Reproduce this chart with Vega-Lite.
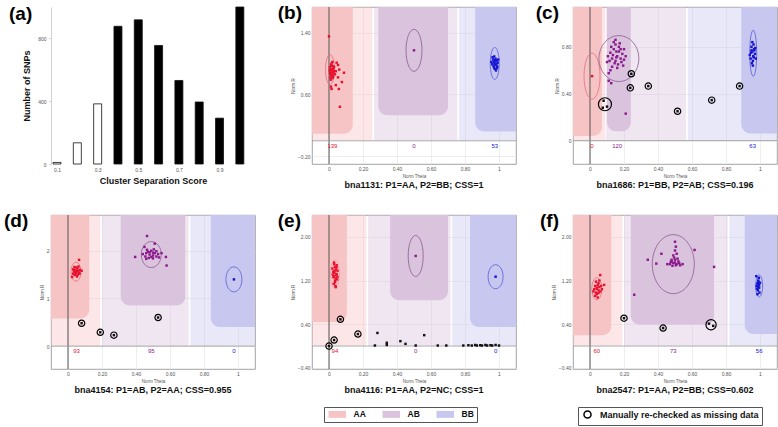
{
 "$schema": "https://vega.github.io/schema/vega-lite/v6.json",
 "padding": {"left": 3, "top": 3, "right": 0, "bottom": 0},
 "background": "white",
 "config": {
  "font": "Liberation Sans",
  "view": {"stroke": "#8a8a8a", "strokeWidth": 0.8},
  "axis": {"labelFontSize": 5, "titleFontSize": 4.5, "labelColor": "#555", "titleColor": "#555", "domain": false, "ticks": false, "gridColor": "#e2e2e2", "gridWidth": 0.6, "labelPadding": 2, "titlePadding": 2, "titleFontWeight": "normal", "labelOverlap": false, "labelSeparation": 0},
  "title": {"fontSize": 9, "fontWeight": "bold", "color": "#111", "orient": "bottom", "anchor": "middle"}
 },
 "datasets": {
  "bars": [
   {"css": 0.1, "n": 10, "kept": "no"}, {"css": 0.2, "n": 135, "kept": "no"}, {"css": 0.3, "n": 383, "kept": "no"},
   {"css": 0.4, "n": 877, "kept": "yes"}, {"css": 0.5, "n": 918, "kept": "yes"}, {"css": 0.6, "n": 755, "kept": "yes"},
   {"css": 0.7, "n": 532, "kept": "yes"}, {"css": 0.8, "n": 395, "kept": "yes"}, {"css": 0.9, "n": 292, "kept": "yes"},
   {"css": 1.0, "n": 1000, "kept": "yes"}
  ],
  "tags": [
   {"p": "a", "t": "(a)"}, {"p": "b", "t": "(b)"}, {"p": "c", "t": "(c)"},
   {"p": "d", "t": "(d)"}, {"p": "e", "t": "(e)"}, {"p": "f", "t": "(f)"}
  ],
  "regions": [
   {"p": "b", "g": "AA", "lvl": "light", "x": -0.2, "x2": 0.255, "y": 0, "y2": 3},
   {"p": "b", "g": "AB", "lvl": "light", "x": 0.265, "x2": 0.755, "y": 0, "y2": 3},
   {"p": "b", "g": "BB", "lvl": "light", "x": 0.765, "x2": 1.2, "y": 0, "y2": 3},
   {"p": "b", "g": "AA", "lvl": "core", "x": -0.2, "x2": 0.14, "y": 0.09, "y2": 3},
   {"p": "b", "g": "AB", "lvl": "core", "x": 0.29, "x2": 0.7, "y": 0.33, "y2": 3},
   {"p": "b", "g": "BB", "lvl": "core", "x": 0.86, "x2": 1.2, "y": 0.12, "y2": 3},
   {"p": "c", "g": "AA", "lvl": "light", "x": -0.2, "x2": 0.09, "y": 0, "y2": 3},
   {"p": "c", "g": "AB", "lvl": "light", "x": 0.095, "x2": 0.565, "y": 0, "y2": 3},
   {"p": "c", "g": "BB", "lvl": "light", "x": 0.575, "x2": 1.2, "y": 0, "y2": 3},
   {"p": "c", "g": "AA", "lvl": "core", "x": -0.2, "x2": 0.07, "y": 0.04, "y2": 3},
   {"p": "c", "g": "AB", "lvl": "core", "x": 0.1, "x2": 0.24, "y": 0.08, "y2": 3},
   {"p": "c", "g": "BB", "lvl": "core", "x": 0.89, "x2": 1.2, "y": 0.06, "y2": 3},
   {"p": "d", "g": "AA", "lvl": "light", "x": -0.2, "x2": 0.19, "y": 0, "y2": 3},
   {"p": "d", "g": "AB", "lvl": "light", "x": 0.2, "x2": 0.71, "y": 0, "y2": 3},
   {"p": "d", "g": "BB", "lvl": "light", "x": 0.72, "x2": 1.2, "y": 0, "y2": 3},
   {"p": "d", "g": "AA", "lvl": "core", "x": -0.2, "x2": 0.125, "y": 0.58, "y2": 3},
   {"p": "d", "g": "AB", "lvl": "core", "x": 0.31, "x2": 0.69, "y": 0.85, "y2": 3},
   {"p": "d", "g": "BB", "lvl": "core", "x": 0.84, "x2": 1.2, "y": 0.4, "y2": 3},
   {"p": "e", "g": "AA", "lvl": "light", "x": -0.2, "x2": 0.22, "y": 0, "y2": 3},
   {"p": "e", "g": "AB", "lvl": "light", "x": 0.23, "x2": 0.715, "y": 0, "y2": 3},
   {"p": "e", "g": "BB", "lvl": "light", "x": 0.725, "x2": 1.2, "y": 0, "y2": 3},
   {"p": "e", "g": "AA", "lvl": "core", "x": -0.2, "x2": 0.105, "y": 0.44, "y2": 3},
   {"p": "e", "g": "AB", "lvl": "core", "x": 0.36, "x2": 0.7, "y": 0.84, "y2": 3},
   {"p": "e", "g": "BB", "lvl": "core", "x": 0.83, "x2": 1.2, "y": 0.35, "y2": 3},
   {"p": "f", "g": "AA", "lvl": "light", "x": -0.2, "x2": 0.19, "y": 0, "y2": 3},
   {"p": "f", "g": "AB", "lvl": "light", "x": 0.2, "x2": 0.81, "y": 0, "y2": 3},
   {"p": "f", "g": "BB", "lvl": "light", "x": 0.82, "x2": 1.2, "y": 0, "y2": 3},
   {"p": "f", "g": "AA", "lvl": "core", "x": -0.2, "x2": 0.125, "y": 0.2, "y2": 3},
   {"p": "f", "g": "AB", "lvl": "core", "x": 0.24, "x2": 0.73, "y": 0.39, "y2": 3},
   {"p": "f", "g": "BB", "lvl": "core", "x": 0.91, "x2": 1.2, "y": 0.22, "y2": 3}
  ],
  "ell": [
   {"p": "b", "cl": "AA", "x": 0.006, "y": 0.92}, {"p": "b", "cl": "AB", "x": 0.5, "y": 1.17}, {"p": "b", "cl": "BB", "x": 0.975, "y": 1.0},
   {"p": "c", "cl": "AA", "x": 0.012, "y": 0.55}, {"p": "c", "cl": "AB", "x": 0.17, "y": 0.7}, {"p": "c", "cl": "BB", "x": 0.96, "y": 0.745},
   {"p": "d", "cl": "AA", "x": 0.047, "y": 1.56}, {"p": "d", "cl": "AB", "x": 0.49, "y": 1.92}, {"p": "d", "cl": "BB", "x": 0.976, "y": 1.4},
   {"p": "e", "cl": "AA", "x": 0.035, "y": 1.32}, {"p": "e", "cl": "AB", "x": 0.51, "y": 1.65}, {"p": "e", "cl": "BB", "x": 0.98, "y": 1.27},
   {"p": "f", "cl": "AA", "x": 0.04, "y": 1.05}, {"p": "f", "cl": "AB", "x": 0.49, "y": 1.5}, {"p": "f", "cl": "BB", "x": 0.995, "y": 1.1}
  ],
  "miss": [
   {"p": "c", "x": 0.243, "y": 0.57, "k": 1}, {"p": "c", "x": 0.237, "y": 0.45, "k": 1}, {"p": "c", "x": 0.343, "y": 0.465, "k": 1},
   {"p": "c", "x": 0.515, "y": 0.25, "k": 1}, {"p": "c", "x": 0.716, "y": 0.345, "k": 1}, {"p": "c", "x": 0.88, "y": 0.465, "k": 1},
   {"p": "c", "x": 0.088, "y": 0.31, "k": 3},
   {"p": "d", "x": 0.08, "y": 0.48, "k": 1}, {"p": "d", "x": 0.19, "y": 0.29, "k": 1}, {"p": "d", "x": 0.27, "y": 0.23, "k": 1}, {"p": "d", "x": 0.53, "y": 0.6, "k": 1},
   {"p": "e", "x": 0.067, "y": 0.49, "k": 1}, {"p": "e", "x": 0.17, "y": 0.22, "k": 1}, {"p": "e", "x": 0.03, "y": 0.11, "k": 1}, {"p": "e", "x": 0.0, "y": 0.0, "k": 1},
   {"p": "f", "x": 0.2, "y": 0.51, "k": 1}, {"p": "f", "x": 0.43, "y": 0.33, "k": 1}, {"p": "f", "x": 0.712, "y": 0.39, "k": 2}
  ],
  "counts": [
   {"p": "b", "g": "AA", "x": 0.02, "n": "139"}, {"p": "b", "g": "AB", "x": 0.5, "n": "0"}, {"p": "b", "g": "BB", "x": 0.975, "n": "53"},
   {"p": "c", "g": "AA", "x": 0.012, "n": "0"}, {"p": "c", "g": "AB", "x": 0.16, "n": "120"}, {"p": "c", "g": "BB", "x": 0.957, "n": "63"},
   {"p": "d", "g": "AA", "x": 0.05, "n": "93"}, {"p": "d", "g": "AB", "x": 0.49, "n": "95"}, {"p": "d", "g": "BB", "x": 0.976, "n": "0"},
   {"p": "e", "g": "AA", "x": 0.035, "n": "94"}, {"p": "e", "g": "AB", "x": 0.51, "n": "0"}, {"p": "e", "g": "BB", "x": 0.98, "n": "0"},
   {"p": "f", "g": "AA", "x": 0.04, "n": "60"}, {"p": "f", "g": "AB", "x": 0.49, "n": "73"}, {"p": "f", "g": "BB", "x": 0.995, "n": "56"}
  ],
  "pts": [
   {"p": "b", "g": "AA", "x": 0.005, "y": 0.95}, {"p": "b", "g": "AA", "x": 0.01, "y": 0.92}, {"p": "b", "g": "AA", "x": 0.015, "y": 0.9},
   {"p": "b", "g": "AA", "x": 0.02, "y": 0.88}, {"p": "b", "g": "AA", "x": 0.012, "y": 0.85}, {"p": "b", "g": "AA", "x": 0.018, "y": 0.97},
   {"p": "b", "g": "AA", "x": 0.008, "y": 0.82}, {"p": "b", "g": "AA", "x": 0.025, "y": 0.93}, {"p": "b", "g": "AA", "x": 0.03, "y": 0.9},
   {"p": "b", "g": "AA", "x": 0.022, "y": 0.84}, {"p": "b", "g": "AA", "x": 0.015, "y": 1.0}, {"p": "b", "g": "AA", "x": 0.01, "y": 0.79},
   {"p": "b", "g": "AA", "x": 0.028, "y": 0.96}, {"p": "b", "g": "AA", "x": 0.006, "y": 0.88}, {"p": "b", "g": "AA", "x": 0.02, "y": 0.81},
   {"p": "b", "g": "AA", "x": 0.035, "y": 0.86}, {"p": "b", "g": "AA", "x": 0.017, "y": 0.93}, {"p": "b", "g": "AA", "x": 0.012, "y": 0.98},
   {"p": "b", "g": "AA", "x": 0.026, "y": 0.87}, {"p": "b", "g": "AA", "x": 0.004, "y": 0.91}, {"p": "b", "g": "AA", "x": 0.03, "y": 0.95},
   {"p": "b", "g": "AA", "x": 0.02, "y": 1.02}, {"p": "b", "g": "AA", "x": 0.024, "y": 0.83}, {"p": "b", "g": "AA", "x": 0.009, "y": 0.86},
   {"p": "b", "g": "AA", "x": 0.053, "y": 0.98}, {"p": "b", "g": "AA", "x": 0.06, "y": 0.92}, {"p": "b", "g": "AA", "x": 0.088, "y": 0.88},
   {"p": "b", "g": "AA", "x": 0.053, "y": 0.82}, {"p": "b", "g": "AA", "x": 0.076, "y": 0.76}, {"p": "b", "g": "AA", "x": 0.012, "y": 0.7},
   {"p": "b", "g": "AA", "x": 0.04, "y": 0.72}, {"p": "b", "g": "AA", "x": 0.058, "y": 0.67}, {"p": "b", "g": "AA", "x": 0.015, "y": 0.67},
   {"p": "b", "g": "AA", "x": 0.064, "y": 0.44}, {"p": "b", "g": "AA", "x": 0.0, "y": 1.35}, {"p": "b", "g": "AA", "x": 0.045, "y": 1.01},
   {"p": "b", "g": "AA", "x": 0.04, "y": 0.9},
   {"p": "b", "g": "AB", "x": 0.5, "y": 1.17},
   {"p": "b", "g": "BB", "x": 0.965, "y": 1.05}, {"p": "b", "g": "BB", "x": 0.97, "y": 1.02}, {"p": "b", "g": "BB", "x": 0.975, "y": 1.0},
   {"p": "b", "g": "BB", "x": 0.98, "y": 0.98}, {"p": "b", "g": "BB", "x": 0.985, "y": 1.03}, {"p": "b", "g": "BB", "x": 0.96, "y": 0.99},
   {"p": "b", "g": "BB", "x": 0.99, "y": 0.96}, {"p": "b", "g": "BB", "x": 0.97, "y": 0.95}, {"p": "b", "g": "BB", "x": 0.98, "y": 1.06},
   {"p": "b", "g": "BB", "x": 0.975, "y": 0.93}, {"p": "b", "g": "BB", "x": 0.985, "y": 0.99}, {"p": "b", "g": "BB", "x": 0.962, "y": 1.08},
   {"p": "b", "g": "BB", "x": 0.992, "y": 1.01}, {"p": "b", "g": "BB", "x": 0.968, "y": 0.97}, {"p": "b", "g": "BB", "x": 0.978, "y": 1.04},
   {"p": "b", "g": "BB", "x": 0.988, "y": 0.94}, {"p": "b", "g": "BB", "x": 0.955, "y": 1.02}, {"p": "b", "g": "BB", "x": 0.972, "y": 1.09},
   {"p": "b", "g": "BB", "x": 0.982, "y": 0.91}, {"p": "b", "g": "BB", "x": 0.995, "y": 1.05},
   {"p": "c", "g": "AA", "x": 0.012, "y": 0.55},
   {"p": "c", "g": "AB", "x": 0.12, "y": 0.75}, {"p": "c", "g": "AB", "x": 0.14, "y": 0.78}, {"p": "c", "g": "AB", "x": 0.16, "y": 0.72},
   {"p": "c", "g": "AB", "x": 0.18, "y": 0.7}, {"p": "c", "g": "AB", "x": 0.15, "y": 0.68}, {"p": "c", "g": "AB", "x": 0.17, "y": 0.8},
   {"p": "c", "g": "AB", "x": 0.13, "y": 0.7}, {"p": "c", "g": "AB", "x": 0.19, "y": 0.74}, {"p": "c", "g": "AB", "x": 0.155, "y": 0.76},
   {"p": "c", "g": "AB", "x": 0.145, "y": 0.66}, {"p": "c", "g": "AB", "x": 0.165, "y": 0.65}, {"p": "c", "g": "AB", "x": 0.2, "y": 0.78},
   {"p": "c", "g": "AB", "x": 0.125, "y": 0.8}, {"p": "c", "g": "AB", "x": 0.175, "y": 0.83}, {"p": "c", "g": "AB", "x": 0.135, "y": 0.73},
   {"p": "c", "g": "AB", "x": 0.185, "y": 0.67}, {"p": "c", "g": "AB", "x": 0.15, "y": 0.82}, {"p": "c", "g": "AB", "x": 0.21, "y": 0.72},
   {"p": "c", "g": "AB", "x": 0.115, "y": 0.68}, {"p": "c", "g": "AB", "x": 0.16, "y": 0.62}, {"p": "c", "g": "AB", "x": 0.195, "y": 0.64},
   {"p": "c", "g": "AB", "x": 0.14, "y": 0.84}, {"p": "c", "g": "AB", "x": 0.17, "y": 0.76}, {"p": "c", "g": "AB", "x": 0.13, "y": 0.63},
   {"p": "c", "g": "AB", "x": 0.18, "y": 0.78}, {"p": "c", "g": "AB", "x": 0.105, "y": 0.72}, {"p": "c", "g": "AB", "x": 0.2, "y": 0.69},
   {"p": "c", "g": "AB", "x": 0.155, "y": 0.71}, {"p": "c", "g": "AB", "x": 0.11, "y": 0.575}, {"p": "c", "g": "AB", "x": 0.11, "y": 0.51},
   {"p": "c", "g": "AB", "x": 0.125, "y": 0.49}, {"p": "c", "g": "AB", "x": 0.21, "y": 0.23}, {"p": "c", "g": "AB", "x": 0.1, "y": 0.67},
   {"p": "c", "g": "AB", "x": 0.15, "y": 0.86}, {"p": "c", "g": "AB", "x": 0.12, "y": 0.6},
   {"p": "c", "g": "BB", "x": 0.95, "y": 0.8}, {"p": "c", "g": "BB", "x": 0.955, "y": 0.76}, {"p": "c", "g": "BB", "x": 0.96, "y": 0.72},
   {"p": "c", "g": "BB", "x": 0.965, "y": 0.78}, {"p": "c", "g": "BB", "x": 0.945, "y": 0.7}, {"p": "c", "g": "BB", "x": 0.97, "y": 0.74},
   {"p": "c", "g": "BB", "x": 0.958, "y": 0.68}, {"p": "c", "g": "BB", "x": 0.948, "y": 0.75}, {"p": "c", "g": "BB", "x": 0.962, "y": 0.82},
   {"p": "c", "g": "BB", "x": 0.975, "y": 0.7}, {"p": "c", "g": "BB", "x": 0.952, "y": 0.66}, {"p": "c", "g": "BB", "x": 0.967, "y": 0.77},
   {"p": "c", "g": "BB", "x": 0.94, "y": 0.73}, {"p": "c", "g": "BB", "x": 0.958, "y": 0.64}, {"p": "c", "g": "BB", "x": 0.972, "y": 0.79},
   {"p": "c", "g": "BB", "x": 0.955, "y": 0.84}, {"p": "c", "g": "BB", "x": 0.963, "y": 0.71}, {"p": "c", "g": "BB", "x": 0.95, "y": 0.77},
   {"p": "c", "g": "NC", "x": 0.243, "y": 0.57}, {"p": "c", "g": "NC", "x": 0.237, "y": 0.45}, {"p": "c", "g": "NC", "x": 0.343, "y": 0.465},
   {"p": "c", "g": "NC", "x": 0.515, "y": 0.25}, {"p": "c", "g": "NC", "x": 0.716, "y": 0.345}, {"p": "c", "g": "NC", "x": 0.88, "y": 0.465},
   {"p": "c", "g": "NC", "x": 0.08, "y": 0.34}, {"p": "c", "g": "NC", "x": 0.075, "y": 0.28}, {"p": "c", "g": "NC", "x": 0.1, "y": 0.29},
   {"p": "d", "g": "AA", "x": 0.04, "y": 1.6}, {"p": "d", "g": "AA", "x": 0.05, "y": 1.55}, {"p": "d", "g": "AA", "x": 0.06, "y": 1.58},
   {"p": "d", "g": "AA", "x": 0.045, "y": 1.52}, {"p": "d", "g": "AA", "x": 0.055, "y": 1.63}, {"p": "d", "g": "AA", "x": 0.035, "y": 1.57},
   {"p": "d", "g": "AA", "x": 0.065, "y": 1.54}, {"p": "d", "g": "AA", "x": 0.05, "y": 1.65}, {"p": "d", "g": "AA", "x": 0.04, "y": 1.49},
   {"p": "d", "g": "AA", "x": 0.058, "y": 1.5}, {"p": "d", "g": "AA", "x": 0.03, "y": 1.61}, {"p": "d", "g": "AA", "x": 0.07, "y": 1.6},
   {"p": "d", "g": "AA", "x": 0.048, "y": 1.58}, {"p": "d", "g": "AA", "x": 0.062, "y": 1.67}, {"p": "d", "g": "AA", "x": 0.042, "y": 1.55},
   {"p": "d", "g": "AA", "x": 0.053, "y": 1.46}, {"p": "d", "g": "AA", "x": 0.068, "y": 1.52}, {"p": "d", "g": "AA", "x": 0.038, "y": 1.66},
   {"p": "d", "g": "AA", "x": 0.065, "y": 1.81}, {"p": "d", "g": "AA", "x": 0.024, "y": 1.45}, {"p": "d", "g": "AA", "x": 0.08, "y": 1.58},
   {"p": "d", "g": "AA", "x": 0.03, "y": 1.52},
   {"p": "d", "g": "AB", "x": 0.46, "y": 1.95}, {"p": "d", "g": "AB", "x": 0.48, "y": 1.92}, {"p": "d", "g": "AB", "x": 0.5, "y": 1.9},
   {"p": "d", "g": "AB", "x": 0.52, "y": 1.88}, {"p": "d", "g": "AB", "x": 0.47, "y": 1.98}, {"p": "d", "g": "AB", "x": 0.49, "y": 2.0},
   {"p": "d", "g": "AB", "x": 0.51, "y": 1.95}, {"p": "d", "g": "AB", "x": 0.455, "y": 1.88}, {"p": "d", "g": "AB", "x": 0.53, "y": 1.93},
   {"p": "d", "g": "AB", "x": 0.475, "y": 1.85}, {"p": "d", "g": "AB", "x": 0.5, "y": 1.84}, {"p": "d", "g": "AB", "x": 0.52, "y": 1.99},
   {"p": "d", "g": "AB", "x": 0.44, "y": 1.93}, {"p": "d", "g": "AB", "x": 0.49, "y": 1.87}, {"p": "d", "g": "AB", "x": 0.505, "y": 2.03},
   {"p": "d", "g": "AB", "x": 0.465, "y": 2.02}, {"p": "d", "g": "AB", "x": 0.535, "y": 1.86}, {"p": "d", "g": "AB", "x": 0.48, "y": 1.97},
   {"p": "d", "g": "AB", "x": 0.46, "y": 1.83}, {"p": "d", "g": "AB", "x": 0.5, "y": 1.96}, {"p": "d", "g": "AB", "x": 0.465, "y": 2.31},
   {"p": "d", "g": "AB", "x": 0.395, "y": 1.87}, {"p": "d", "g": "AB", "x": 0.576, "y": 1.87}, {"p": "d", "g": "AB", "x": 0.58, "y": 1.69},
   {"p": "d", "g": "AB", "x": 0.51, "y": 2.15}, {"p": "d", "g": "AB", "x": 0.45, "y": 2.08}, {"p": "d", "g": "AB", "x": 0.55, "y": 1.95},
   {"p": "d", "g": "BB", "x": 0.976, "y": 1.4},
   {"p": "d", "g": "NC", "x": 0.08, "y": 0.48}, {"p": "d", "g": "NC", "x": 0.19, "y": 0.29}, {"p": "d", "g": "NC", "x": 0.27, "y": 0.23},
   {"p": "d", "g": "NC", "x": 0.53, "y": 0.6},
   {"p": "e", "g": "AA", "x": 0.03, "y": 1.5}, {"p": "e", "g": "AA", "x": 0.035, "y": 1.45}, {"p": "e", "g": "AA", "x": 0.04, "y": 1.4},
   {"p": "e", "g": "AA", "x": 0.025, "y": 1.36}, {"p": "e", "g": "AA", "x": 0.045, "y": 1.32}, {"p": "e", "g": "AA", "x": 0.03, "y": 1.28},
   {"p": "e", "g": "AA", "x": 0.04, "y": 1.24}, {"p": "e", "g": "AA", "x": 0.035, "y": 1.2}, {"p": "e", "g": "AA", "x": 0.028, "y": 1.14},
   {"p": "e", "g": "AA", "x": 0.038, "y": 1.1}, {"p": "e", "g": "AA", "x": 0.045, "y": 1.48}, {"p": "e", "g": "AA", "x": 0.02, "y": 1.42},
   {"p": "e", "g": "AA", "x": 0.05, "y": 1.38}, {"p": "e", "g": "AA", "x": 0.032, "y": 1.34}, {"p": "e", "g": "AA", "x": 0.042, "y": 1.3},
   {"p": "e", "g": "AA", "x": 0.026, "y": 1.26}, {"p": "e", "g": "AA", "x": 0.048, "y": 1.22}, {"p": "e", "g": "AA", "x": 0.036, "y": 1.17},
   {"p": "e", "g": "AA", "x": 0.03, "y": 1.53}, {"p": "e", "g": "AA", "x": 0.045, "y": 1.44}, {"p": "e", "g": "AA", "x": 0.022, "y": 1.31},
   {"p": "e", "g": "AA", "x": 0.04, "y": 1.08}, {"p": "e", "g": "AA", "x": 0.05, "y": 1.27}, {"p": "e", "g": "AA", "x": 0.033, "y": 1.38},
   {"p": "e", "g": "AB", "x": 0.51, "y": 1.65}, {"p": "e", "g": "BB", "x": 0.98, "y": 1.27},
   {"p": "e", "g": "NC", "x": 0.067, "y": 0.49}, {"p": "e", "g": "NC", "x": 0.17, "y": 0.22}, {"p": "e", "g": "NC", "x": 0.03, "y": 0.11},
   {"p": "e", "g": "NC", "x": 0.0, "y": 0.0}, {"p": "e", "g": "NC", "x": 0.285, "y": 0.24}, {"p": "e", "g": "NC", "x": 0.34, "y": 0.06},
   {"p": "e", "g": "NC", "x": 0.34, "y": 0.02}, {"p": "e", "g": "NC", "x": 0.42, "y": 0.09}, {"p": "e", "g": "NC", "x": 0.45, "y": 0.04},
   {"p": "e", "g": "NC", "x": 0.56, "y": 0.2}, {"p": "e", "g": "NC", "x": 0.27, "y": 0.01}, {"p": "e", "g": "NC", "x": 0.51, "y": 0.01},
   {"p": "e", "g": "NC", "x": 0.64, "y": 0.01}, {"p": "e", "g": "NC", "x": 0.69, "y": 0.01}, {"p": "e", "g": "NC", "x": 0.79, "y": 0.01},
   {"p": "e", "g": "NC", "x": 0.82, "y": 0.015}, {"p": "e", "g": "NC", "x": 0.84, "y": 0.01}, {"p": "e", "g": "NC", "x": 0.86, "y": 0.02},
   {"p": "e", "g": "NC", "x": 0.87, "y": 0.01}, {"p": "e", "g": "NC", "x": 0.89, "y": 0.015}, {"p": "e", "g": "NC", "x": 0.9, "y": 0.01},
   {"p": "e", "g": "NC", "x": 0.92, "y": 0.02}, {"p": "e", "g": "NC", "x": 0.93, "y": 0.01}, {"p": "e", "g": "NC", "x": 0.95, "y": 0.015},
   {"p": "e", "g": "NC", "x": 0.96, "y": 0.01}, {"p": "e", "g": "NC", "x": 0.98, "y": 0.02}, {"p": "e", "g": "NC", "x": 1.0, "y": 0.01},
   {"p": "f", "g": "AA", "x": 0.03, "y": 1.1}, {"p": "f", "g": "AA", "x": 0.04, "y": 1.05}, {"p": "f", "g": "AA", "x": 0.05, "y": 1.02},
   {"p": "f", "g": "AA", "x": 0.035, "y": 0.98}, {"p": "f", "g": "AA", "x": 0.045, "y": 1.12}, {"p": "f", "g": "AA", "x": 0.055, "y": 1.08},
   {"p": "f", "g": "AA", "x": 0.025, "y": 1.04}, {"p": "f", "g": "AA", "x": 0.06, "y": 1.0}, {"p": "f", "g": "AA", "x": 0.04, "y": 0.95},
   {"p": "f", "g": "AA", "x": 0.05, "y": 1.15}, {"p": "f", "g": "AA", "x": 0.03, "y": 0.92}, {"p": "f", "g": "AA", "x": 0.065, "y": 1.1},
   {"p": "f", "g": "AA", "x": 0.035, "y": 1.18}, {"p": "f", "g": "AA", "x": 0.045, "y": 0.89}, {"p": "f", "g": "AA", "x": 0.02, "y": 1.0},
   {"p": "f", "g": "AA", "x": 0.07, "y": 1.04}, {"p": "f", "g": "AA", "x": 0.055, "y": 1.2}, {"p": "f", "g": "AA", "x": 0.04, "y": 1.07},
   {"p": "f", "g": "AA", "x": 0.083, "y": 1.12}, {"p": "f", "g": "AA", "x": 0.06, "y": 1.3}, {"p": "f", "g": "AA", "x": 0.05, "y": 0.97},
   {"p": "f", "g": "AB", "x": 0.48, "y": 1.55}, {"p": "f", "g": "AB", "x": 0.49, "y": 1.52}, {"p": "f", "g": "AB", "x": 0.5, "y": 1.58},
   {"p": "f", "g": "AB", "x": 0.51, "y": 1.5}, {"p": "f", "g": "AB", "x": 0.52, "y": 1.55}, {"p": "f", "g": "AB", "x": 0.495, "y": 1.62},
   {"p": "f", "g": "AB", "x": 0.505, "y": 1.48}, {"p": "f", "g": "AB", "x": 0.47, "y": 1.5}, {"p": "f", "g": "AB", "x": 0.515, "y": 1.6},
   {"p": "f", "g": "AB", "x": 0.485, "y": 1.47}, {"p": "f", "g": "AB", "x": 0.5, "y": 1.53}, {"p": "f", "g": "AB", "x": 0.525, "y": 1.52},
   {"p": "f", "g": "AB", "x": 0.49, "y": 1.66}, {"p": "f", "g": "AB", "x": 0.51, "y": 1.69}, {"p": "f", "g": "AB", "x": 0.48, "y": 1.58},
   {"p": "f", "g": "AB", "x": 0.53, "y": 1.48}, {"p": "f", "g": "AB", "x": 0.475, "y": 1.54}, {"p": "f", "g": "AB", "x": 0.5, "y": 1.75},
   {"p": "f", "g": "AB", "x": 0.505, "y": 1.82}, {"p": "f", "g": "AB", "x": 0.5, "y": 1.91}, {"p": "f", "g": "AB", "x": 0.34, "y": 1.58},
   {"p": "f", "g": "AB", "x": 0.39, "y": 1.51}, {"p": "f", "g": "AB", "x": 0.42, "y": 1.69}, {"p": "f", "g": "AB", "x": 0.615, "y": 1.76},
   {"p": "f", "g": "AB", "x": 0.73, "y": 1.45}, {"p": "f", "g": "AB", "x": 0.26, "y": 0.94}, {"p": "f", "g": "AB", "x": 0.455, "y": 1.5},
   {"p": "f", "g": "AB", "x": 0.545, "y": 1.5},
   {"p": "f", "g": "BB", "x": 0.99, "y": 1.2}, {"p": "f", "g": "BB", "x": 0.985, "y": 1.15}, {"p": "f", "g": "BB", "x": 0.995, "y": 1.12},
   {"p": "f", "g": "BB", "x": 0.99, "y": 1.08}, {"p": "f", "g": "BB", "x": 0.98, "y": 1.1}, {"p": "f", "g": "BB", "x": 1.0, "y": 1.16},
   {"p": "f", "g": "BB", "x": 0.988, "y": 1.02}, {"p": "f", "g": "BB", "x": 0.993, "y": 1.25}, {"p": "f", "g": "BB", "x": 0.982, "y": 1.05},
   {"p": "f", "g": "BB", "x": 0.997, "y": 0.98}, {"p": "f", "g": "BB", "x": 0.99, "y": 1.18}, {"p": "f", "g": "BB", "x": 0.985, "y": 0.95},
   {"p": "f", "g": "BB", "x": 0.978, "y": 1.28}, {"p": "f", "g": "BB", "x": 0.995, "y": 1.07}, {"p": "f", "g": "BB", "x": 0.987, "y": 1.13},
   {"p": "f", "g": "NC", "x": 0.2, "y": 0.51}, {"p": "f", "g": "NC", "x": 0.43, "y": 0.33}, {"p": "f", "g": "NC", "x": 0.7, "y": 0.41},
   {"p": "f", "g": "NC", "x": 0.725, "y": 0.37}
  ]
 },
 "columns": 3,
 "bounds": "flush",
 "spacing": {"row": 51, "column": 57},
 "resolve": {
  "scale": {"color": "independent", "fill": "independent", "stroke": "independent", "shape": "independent", "size": "independent"},
  "legend": {"color": "independent", "fill": "independent", "stroke": "independent", "shape": "independent", "size": "independent"}
 },
 "concat": [
  {
   "width": 204, "height": 157,
   "view": {"stroke": null},
   "layer": [
    {"data": {"name": "bars"},
     "mark": {"type": "bar", "size": 8, "orient": "vertical", "stroke": "#111", "strokeWidth": 0.8},
     "encoding": {
      "x": {"field": "css", "type": "quantitative", "scale": {"domain": [0.095, 1.05], "nice": false, "zero": false},
            "axis": {"values": [0.1, 0.2, 0.3, 0.4, 0.5, 0.6, 0.7, 0.8, 0.9, 1], "grid": false, "labelOverlap": false, "labelSeparation": 0, "labelFontSize": 5, "labelPadding": 3, "labelExpr": "datum.value == 1 ? '1' : format(datum.value, '.1f')", "title": "Cluster Separation Score", "titleFontSize": 9, "titleFontWeight": "bold", "titleColor": "#111", "titlePadding": 4}},
      "y": {"field": "n", "type": "quantitative", "scale": {"domain": [0, 1000], "nice": false},
            "axis": {"values": [0, 200, 400, 600, 800, 1000], "grid": false, "labelOverlap": false, "labelSeparation": 0, "domain": true, "domainColor": "#c8c8c8", "domainWidth": 0.8, "ticks": true, "tickColor": "#c8c8c8", "tickSize": 2, "labelFontSize": 5, "labelPadding": 3, "title": "Number of SNPs", "titleFontSize": 9, "titleFontWeight": "bold", "titleColor": "#111", "titlePadding": 6}},
      "fill": {"field": "kept", "type": "nominal", "scale": {"domain": ["no", "yes"], "range": ["#ffffff", "#000000"]}, "legend": null}
     }},
    {"data": {"name": "tags"}, "transform": [{"filter": "datum.p == 'a'"}],
     "mark": {"type": "text", "align": "left", "baseline": "top", "fontSize": 19, "fontWeight": "bold", "color": "#000", "dx": -47, "dy": -2},
     "encoding": {"x": {"datum": 0.095}, "y": {"datum": 1000}, "text": {"field": "t"}}},
    {"data": {"name": "regions"}, "transform": [{"filter": "false"}],
     "mark": {"type": "point", "shape": "square", "filled": true, "opacity": 0},
     "encoding": {
      "color": {"field": "g", "type": "nominal", "scale": {"domain": ["AA", "AB", "BB"], "range": ["#f7c4c6", "#d9c3dd", "#c7c7f0"]},
       "legend": {"orient": "none", "legendX": 273, "legendY": 400, "direction": "horizontal", "columns": 3, "title": null, "symbolType": "M-2.5,-1H2.5V1H-2.5Z", "symbolSize": 49, "symbolOffset": 6, "symbolOpacity": 1, "symbolStrokeWidth": 0, "labelFontSize": 8.5, "labelFontWeight": "bold", "labelColor": "#111", "labelOffset": 12, "columnPadding": 15, "strokeColor": "#555", "padding": 3}}
     }},
    {"data": {"name": "miss"}, "transform": [{"filter": "false"}],
     "mark": {"type": "point", "filled": false, "color": "#000", "strokeWidth": 1.5, "opacity": 0},
     "encoding": {
      "shape": {"datum": "Manually re-checked as missing data", "scale": {"domain": ["Manually re-checked as missing data"], "range": ["circle"]},
       "legend": {"orient": "none", "legendX": 527, "legendY": 400, "title": null, "symbolSize": 50, "symbolOpacity": 1, "symbolStrokeColor": "#000", "symbolFillColor": "transparent", "symbolStrokeWidth": 1.5, "symbolOffset": 2, "labelFontSize": 9, "labelFontWeight": "bold", "labelColor": "#111", "labelOffset": 8, "strokeColor": "#555", "padding": 3}}
     }}
   ]
  },
  {
   "width": 204, "height": 157,
   "title": {"text": "bna1131: P1=AA, P2=BB; CSS=1", "offset": 3},
   "layer": [
    {"data": {"name": "regions"}, "transform": [{"filter": "datum.p == 'b' && datum.lvl == 'light'"}],
     "mark": {"type": "rect", "opacity": 0.42, "clip": true},
     "encoding": {
      "x": {"field": "x", "type": "quantitative", "scale": {"domain": [-0.1, 1.1], "nice": false, "zero": false},
            "axis": {"values": [0, 0.2, 0.4, 0.6, 0.8, 1], "labelOverlap": false, "title": "Norm Theta", "labelExpr": "datum.value == 0 ? '0' : datum.value == 1 ? '1' : format(datum.value, '.2f')"}},
      "x2": {"field": "x2"},
      "y": {"field": "y", "type": "quantitative", "scale": {"domain": [-0.3, 1.73], "nice": false, "zero": false},
            "axis": {"values": [-0.2, 0, 0.2, 0.4, 0.6, 0.8, 1, 1.2, 1.4, 1.6], "labelOverlap": false, "title": "Norm R", "labelExpr": "datum.value == 0 ? '0' : datum.value == 1 ? '1' : format(datum.value, '.2f')"}},
      "y2": {"field": "y2"},
      "color": {"field": "g", "type": "nominal", "scale": {"domain": ["AA", "AB", "BB"], "range": ["#f7c4c6", "#d9c3dd", "#c7c7f0"]}, "legend": null}
     }},
    {"data": {"name": "regions"}, "transform": [{"filter": "datum.p == 'b' && datum.lvl == 'core'"}],
     "mark": {"type": "rect", "clip": true, "cornerRadius": 9},
     "encoding": {"x": {"field": "x", "type": "quantitative"}, "x2": {"field": "x2"}, "y": {"field": "y", "type": "quantitative"}, "y2": {"field": "y2"}, "color": {"field": "g", "type": "nominal", "legend": null}}},
    {"data": {"values": [{}]}, "mark": {"type": "rule", "color": "#555", "strokeWidth": 1}, "encoding": {"x": {"datum": 0}}},
    {"data": {"values": [{}]}, "mark": {"type": "rule", "color": "#999", "strokeWidth": 0.8}, "encoding": {"y": {"datum": 0}}},
    {"data": {"name": "ell"}, "transform": [{"filter": "datum.p == 'b'"}],
     "mark": {"type": "point", "filled": false, "size": 4, "strokeWidth": 0.8, "opacity": 1},
     "encoding": {"x": {"field": "x", "type": "quantitative"}, "y": {"field": "y", "type": "quantitative"},
      "shape": {"field": "cl", "type": "nominal", "scale": {"domain": ["AA", "AB", "BB"], "range": ["M-4.5,0A4.5,15 0 1,0 4.5,0A4.5,15 0 1,0 -4.5,0", "M-8,0A8,21 0 1,0 8,0A8,21 0 1,0 -8,0", "M-4.5,0A4.5,16 0 1,0 4.5,0A4.5,16 0 1,0 -4.5,0"]}, "legend": null},
      "stroke": {"field": "cl", "type": "nominal", "scale": {"domain": ["AA", "AB", "BB"], "range": ["#e0707e", "#8d5c92", "#5c5cd6"]}, "legend": null}}},
    {"data": {"name": "pts"}, "transform": [{"filter": "datum.p == 'b'"}],
     "mark": {"type": "point", "shape": "square", "filled": true, "size": 6, "opacity": 1},
     "encoding": {"x": {"field": "x", "type": "quantitative"}, "y": {"field": "y", "type": "quantitative"},
      "fill": {"field": "g", "type": "nominal", "scale": {"domain": ["AA", "AB", "BB", "NC"], "range": ["#e8112d", "#8c1a8c", "#1414d2", "#111111"]}, "legend": null}}},
    {"data": {"name": "counts"}, "transform": [{"filter": "datum.p == 'b'"}],
     "mark": {"type": "text", "fontSize": 6, "baseline": "top", "dy": 2},
     "encoding": {"x": {"field": "x", "type": "quantitative"}, "y": {"datum": 0}, "text": {"field": "n"}, "fill": {"field": "g", "type": "nominal", "legend": null}}},
    {"data": {"name": "tags"}, "transform": [{"filter": "datum.p == 'b'"}],
     "mark": {"type": "text", "align": "right", "baseline": "top", "fontSize": 19, "fontWeight": "bold", "color": "#000", "dx": -10, "dy": -3},
     "encoding": {"x": {"datum": -0.1}, "y": {"datum": 1.73}, "text": {"field": "t"}}}
   ]
  },
  {
   "width": 204, "height": 157,
   "title": {"text": "bna1686: P1=BB, P2=AB; CSS=0.196", "offset": 3},
   "layer": [
    {"data": {"name": "regions"}, "transform": [{"filter": "datum.p == 'c' && datum.lvl == 'light'"}],
     "mark": {"type": "rect", "opacity": 0.42, "clip": true},
     "encoding": {
      "x": {"field": "x", "type": "quantitative", "scale": {"domain": [-0.1, 1.1], "nice": false, "zero": false},
            "axis": {"values": [0, 0.2, 0.4, 0.6, 0.8, 1], "labelOverlap": false, "title": "Norm Theta", "labelExpr": "datum.value == 0 ? '0' : datum.value == 1 ? '1' : format(datum.value, '.2f')"}},
      "x2": {"field": "x2"},
      "y": {"field": "y", "type": "quantitative", "scale": {"domain": [-0.2, 1.14], "nice": false, "zero": false},
            "axis": {"values": [0, 0.2, 0.4, 0.6, 0.8, 1], "labelOverlap": false, "title": "Norm R", "labelExpr": "datum.value == 0 ? '0' : datum.value == 1 ? '1' : format(datum.value, '.2f')"}},
      "y2": {"field": "y2"},
      "color": {"field": "g", "type": "nominal", "scale": {"domain": ["AA", "AB", "BB"], "range": ["#f7c4c6", "#d9c3dd", "#c7c7f0"]}, "legend": null}
     }},
    {"data": {"name": "regions"}, "transform": [{"filter": "datum.p == 'c' && datum.lvl == 'core'"}],
     "mark": {"type": "rect", "clip": true, "cornerRadius": 9},
     "encoding": {"x": {"field": "x", "type": "quantitative"}, "x2": {"field": "x2"}, "y": {"field": "y", "type": "quantitative"}, "y2": {"field": "y2"}, "color": {"field": "g", "type": "nominal", "legend": null}}},
    {"data": {"values": [{}]}, "mark": {"type": "rule", "color": "#555", "strokeWidth": 1}, "encoding": {"x": {"datum": 0}}},
    {"data": {"values": [{}]}, "mark": {"type": "rule", "color": "#999", "strokeWidth": 0.8}, "encoding": {"y": {"datum": 0}}},
    {"data": {"name": "ell"}, "transform": [{"filter": "datum.p == 'c'"}],
     "mark": {"type": "point", "filled": false, "size": 4, "strokeWidth": 0.8, "opacity": 1},
     "encoding": {"x": {"field": "x", "type": "quantitative"}, "y": {"field": "y", "type": "quantitative"},
      "shape": {"field": "cl", "type": "nominal", "scale": {"domain": ["AA", "AB", "BB"], "range": ["M-8,0A8,23 0 1,0 8,0A8,23 0 1,0 -8,0", "M-20,0A20,23 0 1,0 20,0A20,23 0 1,0 -20,0", "M-3.5,0A3.5,23 0 1,0 3.5,0A3.5,23 0 1,0 -3.5,0"]}, "legend": null},
      "stroke": {"field": "cl", "type": "nominal", "scale": {"domain": ["AA", "AB", "BB"], "range": ["#e0707e", "#8d5c92", "#5c5cd6"]}, "legend": null}}},
    {"data": {"name": "pts"}, "transform": [{"filter": "datum.p == 'c'"}],
     "mark": {"type": "point", "shape": "square", "filled": true, "size": 6, "opacity": 1},
     "encoding": {"x": {"field": "x", "type": "quantitative"}, "y": {"field": "y", "type": "quantitative"},
      "fill": {"field": "g", "type": "nominal", "scale": {"domain": ["AA", "AB", "BB", "NC"], "range": ["#e8112d", "#8c1a8c", "#1414d2", "#111111"]}, "legend": null}}},
    {"data": {"name": "miss"}, "transform": [{"filter": "datum.p == 'c'"}],
     "mark": {"type": "point", "shape": "circle", "filled": false, "color": "#000", "strokeWidth": 1.2, "opacity": 1},
     "encoding": {"x": {"field": "x", "type": "quantitative"}, "y": {"field": "y", "type": "quantitative"},
      "size": {"field": "k", "type": "quantitative", "scale": {"domain": [1, 3], "range": [40, 170], "zero": false}, "legend": null}}},
    {"data": {"name": "counts"}, "transform": [{"filter": "datum.p == 'c'"}],
     "mark": {"type": "text", "fontSize": 6, "baseline": "top", "dy": 2},
     "encoding": {"x": {"field": "x", "type": "quantitative"}, "y": {"datum": 0}, "text": {"field": "n"}, "fill": {"field": "g", "type": "nominal", "legend": null}}},
    {"data": {"name": "tags"}, "transform": [{"filter": "datum.p == 'c'"}],
     "mark": {"type": "text", "align": "right", "baseline": "top", "fontSize": 19, "fontWeight": "bold", "color": "#000", "dx": -14, "dy": -3},
     "encoding": {"x": {"datum": -0.1}, "y": {"datum": 1.14}, "text": {"field": "t"}}}
   ]
  },
  {
   "width": 204, "height": 154,
   "title": {"text": "bna4154: P1=AB, P2=AA; CSS=0.955", "offset": 3},
   "layer": [
    {"data": {"name": "regions"}, "transform": [{"filter": "datum.p == 'd' && datum.lvl == 'light'"}],
     "mark": {"type": "rect", "opacity": 0.42, "clip": true},
     "encoding": {
      "x": {"field": "x", "type": "quantitative", "scale": {"domain": [-0.1, 1.1], "nice": false, "zero": false},
            "axis": {"values": [0, 0.2, 0.4, 0.6, 0.8, 1], "labelOverlap": false, "title": "Norm Theta", "labelExpr": "datum.value == 0 ? '0' : datum.value == 1 ? '1' : format(datum.value, '.2f')"}},
      "x2": {"field": "x2"},
      "y": {"field": "y", "type": "quantitative", "scale": {"domain": [-0.48, 2.75], "nice": false, "zero": false},
            "axis": {"values": [0, 1, 2], "labelOverlap": false, "title": "Norm R", "labelExpr": "datum.value == 0 ? '0' : datum.value == 1 ? '1' : datum.value == 2 ? '2' : format(datum.value, '.2f')"}},
      "y2": {"field": "y2"},
      "color": {"field": "g", "type": "nominal", "scale": {"domain": ["AA", "AB", "BB"], "range": ["#f7c4c6", "#d9c3dd", "#c7c7f0"]}, "legend": null}
     }},
    {"data": {"name": "regions"}, "transform": [{"filter": "datum.p == 'd' && datum.lvl == 'core'"}],
     "mark": {"type": "rect", "clip": true, "cornerRadius": 9},
     "encoding": {"x": {"field": "x", "type": "quantitative"}, "x2": {"field": "x2"}, "y": {"field": "y", "type": "quantitative"}, "y2": {"field": "y2"}, "color": {"field": "g", "type": "nominal", "legend": null}}},
    {"data": {"values": [{}]}, "mark": {"type": "rule", "color": "#555", "strokeWidth": 1}, "encoding": {"x": {"datum": 0}}},
    {"data": {"values": [{}]}, "mark": {"type": "rule", "color": "#999", "strokeWidth": 0.8}, "encoding": {"y": {"datum": 0}}},
    {"data": {"name": "ell"}, "transform": [{"filter": "datum.p == 'd'"}],
     "mark": {"type": "point", "filled": false, "size": 4, "strokeWidth": 0.8, "opacity": 1},
     "encoding": {"x": {"field": "x", "type": "quantitative"}, "y": {"field": "y", "type": "quantitative"},
      "shape": {"field": "cl", "type": "nominal", "scale": {"domain": ["AA", "AB", "BB"], "range": ["M-5,0A5,9.5 0 1,0 5,0A5,9.5 0 1,0 -5,0", "M-10,0A10,13 0 1,0 10,0A10,13 0 1,0 -10,0", "M-8,0A8,12.5 0 1,0 8,0A8,12.5 0 1,0 -8,0"]}, "legend": null},
      "stroke": {"field": "cl", "type": "nominal", "scale": {"domain": ["AA", "AB", "BB"], "range": ["#e0707e", "#8d5c92", "#5c5cd6"]}, "legend": null}}},
    {"data": {"name": "pts"}, "transform": [{"filter": "datum.p == 'd'"}],
     "mark": {"type": "point", "shape": "square", "filled": true, "size": 6, "opacity": 1},
     "encoding": {"x": {"field": "x", "type": "quantitative"}, "y": {"field": "y", "type": "quantitative"},
      "fill": {"field": "g", "type": "nominal", "scale": {"domain": ["AA", "AB", "BB", "NC"], "range": ["#e8112d", "#8c1a8c", "#1414d2", "#111111"]}, "legend": null}}},
    {"data": {"name": "miss"}, "transform": [{"filter": "datum.p == 'd'"}],
     "mark": {"type": "point", "shape": "circle", "filled": false, "color": "#000", "strokeWidth": 1.2, "opacity": 1},
     "encoding": {"x": {"field": "x", "type": "quantitative"}, "y": {"field": "y", "type": "quantitative"},
      "size": {"field": "k", "type": "quantitative", "scale": {"domain": [1, 3], "range": [40, 170], "zero": false}, "legend": null}}},
    {"data": {"name": "counts"}, "transform": [{"filter": "datum.p == 'd'"}],
     "mark": {"type": "text", "fontSize": 6, "baseline": "top", "dy": 2},
     "encoding": {"x": {"field": "x", "type": "quantitative"}, "y": {"datum": 0}, "text": {"field": "n"}, "fill": {"field": "g", "type": "nominal", "legend": null}}},
    {"data": {"name": "tags"}, "transform": [{"filter": "datum.p == 'd'"}],
     "mark": {"type": "text", "align": "left", "baseline": "top", "fontSize": 19, "fontWeight": "bold", "color": "#000", "dx": -47, "dy": -3},
     "encoding": {"x": {"datum": -0.1}, "y": {"datum": 2.75}, "text": {"field": "t"}}}
   ]
  },
  {
   "width": 204, "height": 154,
   "title": {"text": "bna4116: P1=AA, P2=NC; CSS=1", "offset": 3},
   "layer": [
    {"data": {"name": "regions"}, "transform": [{"filter": "datum.p == 'e' && datum.lvl == 'light'"}],
     "mark": {"type": "rect", "opacity": 0.42, "clip": true},
     "encoding": {
      "x": {"field": "x", "type": "quantitative", "scale": {"domain": [-0.1, 1.1], "nice": false, "zero": false},
            "axis": {"values": [0, 0.2, 0.4, 0.6, 0.8, 1], "labelOverlap": false, "title": "Norm Theta", "labelExpr": "datum.value == 0 ? '0' : datum.value == 1 ? '1' : format(datum.value, '.2f')"}},
      "x2": {"field": "x2"},
      "y": {"field": "y", "type": "quantitative", "scale": {"domain": [-0.42, 2.4], "nice": false, "zero": false},
            "axis": {"values": [-0.4, -0.2, 0, 0.2, 0.4, 0.6, 0.8, 1, 1.2, 1.4, 1.6, 1.8, 2, 2.2], "labelOverlap": false, "title": "Norm R", "labelExpr": "datum.value == 0 ? '0' : datum.value == 1 ? '1' : format(datum.value, '.2f')"}},
      "y2": {"field": "y2"},
      "color": {"field": "g", "type": "nominal", "scale": {"domain": ["AA", "AB", "BB"], "range": ["#f7c4c6", "#d9c3dd", "#c7c7f0"]}, "legend": null}
     }},
    {"data": {"name": "regions"}, "transform": [{"filter": "datum.p == 'e' && datum.lvl == 'core'"}],
     "mark": {"type": "rect", "clip": true, "cornerRadius": 9},
     "encoding": {"x": {"field": "x", "type": "quantitative"}, "x2": {"field": "x2"}, "y": {"field": "y", "type": "quantitative"}, "y2": {"field": "y2"}, "color": {"field": "g", "type": "nominal", "legend": null}}},
    {"data": {"values": [{}]}, "mark": {"type": "rule", "color": "#555", "strokeWidth": 1}, "encoding": {"x": {"datum": 0}}},
    {"data": {"values": [{}]}, "mark": {"type": "rule", "color": "#999", "strokeWidth": 0.8}, "encoding": {"y": {"datum": 0}}},
    {"data": {"name": "ell"}, "transform": [{"filter": "datum.p == 'e'"}],
     "mark": {"type": "point", "filled": false, "size": 4, "strokeWidth": 0.8, "opacity": 1},
     "encoding": {"x": {"field": "x", "type": "quantitative"}, "y": {"field": "y", "type": "quantitative"},
      "shape": {"field": "cl", "type": "nominal", "scale": {"domain": ["AA", "AB", "BB"], "range": ["M-4.5,0A4.5,14 0 1,0 4.5,0A4.5,14 0 1,0 -4.5,0", "M-7.5,0A7.5,20.5 0 1,0 7.5,0A7.5,20.5 0 1,0 -7.5,0", "M-7.5,0A7.5,12 0 1,0 7.5,0A7.5,12 0 1,0 -7.5,0"]}, "legend": null},
      "stroke": {"field": "cl", "type": "nominal", "scale": {"domain": ["AA", "AB", "BB"], "range": ["#f0a0aa", "#8d5c92", "#5c5cd6"]}, "legend": null}}},
    {"data": {"name": "pts"}, "transform": [{"filter": "datum.p == 'e'"}],
     "mark": {"type": "point", "shape": "square", "filled": true, "size": 6, "opacity": 1},
     "encoding": {"x": {"field": "x", "type": "quantitative"}, "y": {"field": "y", "type": "quantitative"},
      "fill": {"field": "g", "type": "nominal", "scale": {"domain": ["AA", "AB", "BB", "NC"], "range": ["#e8112d", "#8c1a8c", "#1414d2", "#111111"]}, "legend": null}}},
    {"data": {"name": "miss"}, "transform": [{"filter": "datum.p == 'e'"}],
     "mark": {"type": "point", "shape": "circle", "filled": false, "color": "#000", "strokeWidth": 1.2, "opacity": 1},
     "encoding": {"x": {"field": "x", "type": "quantitative"}, "y": {"field": "y", "type": "quantitative"},
      "size": {"field": "k", "type": "quantitative", "scale": {"domain": [1, 3], "range": [40, 170], "zero": false}, "legend": null}}},
    {"data": {"name": "counts"}, "transform": [{"filter": "datum.p == 'e'"}],
     "mark": {"type": "text", "fontSize": 6, "baseline": "top", "dy": 2},
     "encoding": {"x": {"field": "x", "type": "quantitative"}, "y": {"datum": 0}, "text": {"field": "n"}, "fill": {"field": "g", "type": "nominal", "legend": null}}},
    {"data": {"name": "tags"}, "transform": [{"filter": "datum.p == 'e'"}],
     "mark": {"type": "text", "align": "right", "baseline": "top", "fontSize": 19, "fontWeight": "bold", "color": "#000", "dx": -11, "dy": -3},
     "encoding": {"x": {"datum": -0.1}, "y": {"datum": 2.4}, "text": {"field": "t"}}}
   ]
  },
  {
   "width": 204, "height": 154,
   "title": {"text": "bna2547: P1=AA, P2=BB; CSS=0.602", "offset": 3},
   "layer": [
    {"data": {"name": "regions"}, "transform": [{"filter": "datum.p == 'f' && datum.lvl == 'light'"}],
     "mark": {"type": "rect", "opacity": 0.42, "clip": true},
     "encoding": {
      "x": {"field": "x", "type": "quantitative", "scale": {"domain": [-0.1, 1.1], "nice": false, "zero": false},
            "axis": {"values": [0, 0.2, 0.4, 0.6, 0.8, 1], "labelOverlap": false, "title": "Norm Theta", "labelExpr": "datum.value == 0 ? '0' : datum.value == 1 ? '1' : format(datum.value, '.2f')"}},
      "x2": {"field": "x2"},
      "y": {"field": "y", "type": "quantitative", "scale": {"domain": [-0.42, 2.4], "nice": false, "zero": false},
            "axis": {"values": [-0.4, -0.2, 0, 0.2, 0.4, 0.6, 0.8, 1, 1.2, 1.4, 1.6, 1.8, 2, 2.2], "labelOverlap": false, "title": "Norm R", "labelExpr": "datum.value == 0 ? '0' : datum.value == 1 ? '1' : format(datum.value, '.2f')"}},
      "y2": {"field": "y2"},
      "color": {"field": "g", "type": "nominal", "scale": {"domain": ["AA", "AB", "BB"], "range": ["#f7c4c6", "#d9c3dd", "#c7c7f0"]}, "legend": null}
     }},
    {"data": {"name": "regions"}, "transform": [{"filter": "datum.p == 'f' && datum.lvl == 'core'"}],
     "mark": {"type": "rect", "clip": true, "cornerRadius": 9},
     "encoding": {"x": {"field": "x", "type": "quantitative"}, "x2": {"field": "x2"}, "y": {"field": "y", "type": "quantitative"}, "y2": {"field": "y2"}, "color": {"field": "g", "type": "nominal", "legend": null}}},
    {"data": {"values": [{}]}, "mark": {"type": "rule", "color": "#555", "strokeWidth": 1}, "encoding": {"x": {"datum": 0}}},
    {"data": {"values": [{}]}, "mark": {"type": "rule", "color": "#999", "strokeWidth": 0.8}, "encoding": {"y": {"datum": 0}}},
    {"data": {"name": "ell"}, "transform": [{"filter": "datum.p == 'f'"}],
     "mark": {"type": "point", "filled": false, "size": 4, "strokeWidth": 0.8, "opacity": 1},
     "encoding": {"x": {"field": "x", "type": "quantitative"}, "y": {"field": "y", "type": "quantitative"},
      "shape": {"field": "cl", "type": "nominal", "scale": {"domain": ["AA", "AB", "BB"], "range": ["M-5,0A5,11 0 1,0 5,0A5,11 0 1,0 -5,0", "M-21,0A21,29.5 0 1,0 21,0A21,29.5 0 1,0 -21,0", "M-3.5,0A3.5,11 0 1,0 3.5,0A3.5,11 0 1,0 -3.5,0"]}, "legend": null},
      "stroke": {"field": "cl", "type": "nominal", "scale": {"domain": ["AA", "AB", "BB"], "range": ["#e0707e", "#8d5c92", "#5c5cd6"]}, "legend": null}}},
    {"data": {"name": "pts"}, "transform": [{"filter": "datum.p == 'f'"}],
     "mark": {"type": "point", "shape": "square", "filled": true, "size": 6, "opacity": 1},
     "encoding": {"x": {"field": "x", "type": "quantitative"}, "y": {"field": "y", "type": "quantitative"},
      "fill": {"field": "g", "type": "nominal", "scale": {"domain": ["AA", "AB", "BB", "NC"], "range": ["#e8112d", "#8c1a8c", "#1414d2", "#111111"]}, "legend": null}}},
    {"data": {"name": "miss"}, "transform": [{"filter": "datum.p == 'f'"}],
     "mark": {"type": "point", "shape": "circle", "filled": false, "color": "#000", "strokeWidth": 1.2, "opacity": 1},
     "encoding": {"x": {"field": "x", "type": "quantitative"}, "y": {"field": "y", "type": "quantitative"},
      "size": {"field": "k", "type": "quantitative", "scale": {"domain": [1, 3], "range": [40, 170], "zero": false}, "legend": null}}},
    {"data": {"name": "counts"}, "transform": [{"filter": "datum.p == 'f'"}],
     "mark": {"type": "text", "fontSize": 6, "baseline": "top", "dy": 2},
     "encoding": {"x": {"field": "x", "type": "quantitative"}, "y": {"datum": 0}, "text": {"field": "n"}, "fill": {"field": "g", "type": "nominal", "legend": null}}},
    {"data": {"name": "tags"}, "transform": [{"filter": "datum.p == 'f'"}],
     "mark": {"type": "text", "align": "right", "baseline": "top", "fontSize": 19, "fontWeight": "bold", "color": "#000", "dx": -14, "dy": -3},
     "encoding": {"x": {"datum": -0.1}, "y": {"datum": 2.4}, "text": {"field": "t"}}}
   ]
  }
 ]
}
